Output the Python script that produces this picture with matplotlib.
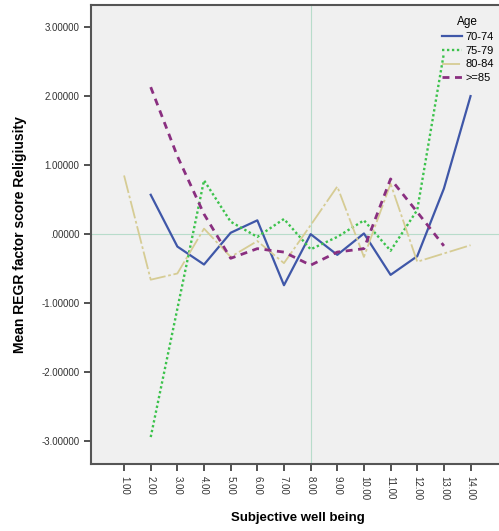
import numpy as np
import matplotlib.pyplot as plt

nan = np.nan
x = np.arange(1, 15)
xlabels = ['%d.00' % v for v in x]
ages = ['70-74', '75-79', '80-84', '>=85']
a70 = [nan, 0.57, -0.18, -0.44, 0.02, 0.20, -0.74, 0.00, -0.30, 0.01, -0.59, -0.32, 0.66, 2.00]
a75 = [nan, -2.94, -1.08, 0.78, 0.18, -0.04, 0.22, -0.22, -0.04, 0.20, -0.24, 0.35, 2.62, nan]
a80 = [0.85, -0.66, -0.57, 0.08, -0.33, -0.10, -0.42, 0.13, 0.69, -0.33, 0.73, -0.40, -0.28, -0.16]
a85 = [nan, 2.13, 1.13, 0.29, -0.35, -0.21, -0.26, -0.45, -0.26, -0.21, 0.80, 0.32, -0.17, nan]
yticks = [3, 2, 1, 0, -1, -2, -3]
yticklabels = ['3.00000', '2.00000', '1.00000', '.00000', '-1.00000', '-2.00000', '-3.00000']

plt.rcParams['font.family'] = ['Liberation Sans Narrow', 'Liberation Sans', 'DejaVu Sans']

fig = plt.figure(figsize=(4.99, 5.31), dpi=100)
ax = fig.add_axes([0.1824, 0.1262, 0.83, 0.8644])
ax.set_facecolor('#f0f0f0')

# reference lines
ax.axhline(0, color='#b8dccb', lw=0.8, zorder=1)
ax.axvline(8, color='#b8dccb', lw=0.8, zorder=1)

ax.plot(x, a70, color='#3f57a8', lw=1.6, label=ages[0], zorder=3)
ax.plot(x, a75, color='#3cc24c', lw=1.7, linestyle=(0, (1, 1.1)), label=ages[1], zorder=3)
ax.plot(x, a80, color='#d6cc94', lw=1.3, linestyle=(0, (10, 1.5, 1.5, 1.5)), label=ages[2], zorder=3)
ax.plot(x, a85, color='#8a2f80', lw=2.0, linestyle=(0, (2.5, 2)), label=ages[3], zorder=3)

ax.set_xlim(-0.24, 15.3)
ax.set_ylim(-3.33, 3.32)
ax.set_xticks(x)
ax.set_xticklabels(xlabels, rotation=270, fontsize=7, color='#333333')
ax.set_yticks(yticks)
ax.set_yticklabels(yticklabels, fontsize=7, color='#333333')
ax.tick_params(direction='out', length=5, width=1.2, color='#333333')

for s in ['left', 'bottom', 'top']:
    ax.spines[s].set_color('#555555')
    ax.spines[s].set_linewidth(1.5)
ax.spines['right'].set_visible(False)

ax.set_xlabel('Subjective well being', fontsize=9.5, fontweight='bold', labelpad=9,
              family=['Liberation Sans', 'DejaVu Sans'])
ax.set_ylabel('Mean REGR factor score Religiusity', fontsize=10, fontweight='bold', labelpad=10,
              family=['Liberation Sans', 'DejaVu Sans'])

leg = ax.legend(title='Age', loc='upper right', bbox_to_anchor=(1.005, 0.985),
                bbox_transform=fig.transFigure, frameon=False, fontsize=8,
                title_fontsize=8.5, handlelength=1.8, handletextpad=0.3,
                labelspacing=0.35, borderpad=0.2)

fig.savefig('out.png', dpi=100)
